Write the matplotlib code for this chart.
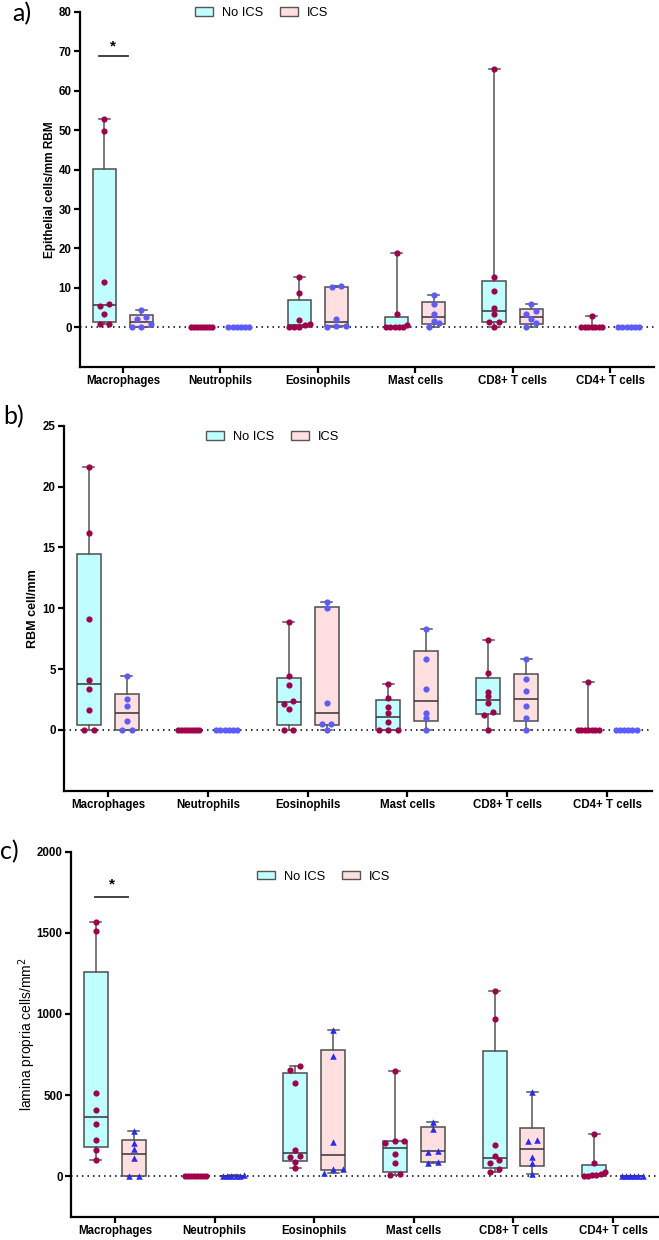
import numpy as np
import matplotlib
matplotlib.use('Agg')
import matplotlib.pyplot as plt
from matplotlib.patches import Patch

plt.rcParams['font.family'] = ['Liberation Sans', 'DejaVu Sans']

categories = ['Macrophages', 'Neutrophils', 'Eosinophils', 'Mast cells', 'CD8+ T cells', 'CD4+ T cells']

# panel a - epithelial cells/mm RBM
a_no_ics = [
    [52.9, 49.7, 11.5, 5.8, 5.5, 3.3, 0.76, 0.76],
    [0, 0, 0, 0, 0, 0, 0, 0],
    [12.8, 8.6, 1.85, 0.76, 0.6, 0, 0, 0],
    [18.8, 3.4, 0.6, 0, 0, 0, 0, 0],
    [65.5, 12.7, 9.3, 5.0, 3.3, 1.4, 1.3, 0],
    [2.9, 0, 0, 0, 0, 0, 0, 0],
]
a_ics = [
    [4.5, 2.5, 2.0, 0.76, 0, 0],
    [0, 0, 0, 0, 0, 0],
    [10.5, 10.1, 2.1, 0.4, 0.4, 0],
    [8.3, 5.9, 3.4, 1.6, 1.0, 0],
    [5.9, 4.2, 3.4, 2.0, 1.0, 0],
    [0, 0, 0, 0, 0, 0],
]

# panel b - RBM cell/mm
b_no_ics = [
    [21.6, 16.2, 9.1, 4.1, 3.4, 1.6, 0, 0],
    [0, 0, 0, 0, 0, 0, 0, 0],
    [8.9, 4.4, 3.7, 2.4, 2.1, 1.7, 0, 0],
    [3.77, 2.6, 1.9, 1.4, 0.66, 0, 0, 0],
    [7.4, 4.65, 3.14, 2.76, 2.2, 1.45, 1.23, 0],
    [3.9, 0, 0, 0, 0, 0, 0, 0],
]
b_ics = [
    [4.4, 2.5, 2.0, 0.74, 0, 0],
    [0, 0, 0, 0, 0, 0],
    [10.5, 10.0, 2.2, 0.5, 0.5, 0],
    [8.25, 5.85, 3.39, 1.42, 1.0, 0],
    [5.8, 4.2, 3.2, 1.94, 0.98, 0],
    [0, 0, 0, 0, 0, 0],
]

# panel c - lamina propria cells/mm2
c_no_ics = [
    [1567, 1510, 510, 410, 324, 223, 164, 98],
    [0, 0, 0, 0, 0, 0, 0, 0],
    [676, 656, 572, 164, 127, 117, 86, 51],
    [650, 217, 217, 203, 139, 78, 12, 6],
    [1141, 967, 190, 127, 98, 82, 41, 27],
    [260, 84, 27, 12, 6, 6, 0, 0],
]
c_ics = [
    [281, 205, 168, 111, 0, 0],
    [6, 0, 0, 0, 0, 0],
    [902, 738, 213, 45, 45, 20],
    [332, 293, 158, 150, 88, 78],
    [516, 221, 217, 117, 78, 12],
    [0, 0, 0, 0, 0, 0],
]

CYAN = '#BFFFFF'
PINK = '#FFDFDF'
RED = '#A2004A'
BLUE_AB = '#5B5BFF'
BLUE_C = '#2A2AF5'

W, H = 659, 1240
fig = plt.figure(figsize=(W / 100, H / 100), dpi=100)


def px_axes(left, right, top, bottom):
    return fig.add_axes([left / W, 1 - bottom / H, (right - left) / W, (bottom - top) / H])


def row_offsets(vals, px_x, px_y, thresh=4.5, max_span=21.0, step=9.5):
    # GraphPad-like spreading of points that sit at nearly the same height
    vals = np.asarray(vals, float)
    order = np.argsort(vals)
    xs = np.zeros(len(vals))
    rows, cur = [], [order[0]]
    for i in order[1:]:
        if (vals[i] - vals[cur[0]]) * px_y < thresh:
            cur.append(i)
        else:
            rows.append(cur)
            cur = [i]
    rows.append(cur)
    for r in rows:
        k = len(r)
        if k > 1:
            sp = min(step, max_span / (k - 1))
            for j, idx in enumerate(r):
                xs[idx] = (j - (k - 1) / 2) * sp
    return xs / px_x


def draw_panel(ax, no_ics, ics, ylim, yticks, blue, bmarker, ax_px):
    xlim = (-0.44, 5.45)
    ax.set_xlim(*xlim)
    ax.set_ylim(*ylim)
    px_x = ax_px[0] / (xlim[1] - xlim[0])
    px_y = ax_px[1] / (ylim[1] - ylim[0])
    ax.axhline(0, color='black', lw=1.1, ls=(0, (1, 2.6)), zorder=1)

    for data, off, face, col, mk in [(no_ics, -0.19, CYAN, RED, 'o'),
                                     (ics, 0.19, PINK, blue, bmarker)]:
        stats = []
        for vals in data:
            v = np.array(vals, float)
            q1, med, q3 = np.percentile(v, [25, 50, 75], method='weibull')
            stats.append(dict(med=med, q1=q1, q3=q3, whislo=v.min(), whishi=v.max(), fliers=[]))
        pos = np.arange(len(data)) + off
        ax.bxp(stats, positions=pos, widths=0.24, patch_artist=True, showfliers=False,
               boxprops=dict(facecolor=face, edgecolor='#4d4d4d', linewidth=1.1),
               medianprops=dict(color='#333333', linewidth=1.1),
               whiskerprops=dict(color='#555555', linewidth=1.1),
               capprops=dict(color='#555555', linewidth=1.1),
               capwidths=0.11, manage_ticks=False, zorder=2)
        for p, vals in zip(pos, data):
            dx = row_offsets(vals, px_x, px_y)
            ax.scatter(p + dx, vals, s=20 if mk == 'o' else 22, marker=mk, color=col,
                       linewidths=0, zorder=4)

    for side in ['top', 'right']:
        ax.spines[side].set_visible(False)
    for side in ['left', 'bottom']:
        ax.spines[side].set_linewidth(1.6)
    ax.set_yticks(yticks)
    ax.set_xticks(range(len(categories)))
    ax.set_xticklabels(categories, fontweight='bold', fontsize=8.3)
    ax.tick_params(axis='both', width=1.6, length=4, labelsize=8.3, pad=2)
    for t in ax.get_yticklabels():
        t.set_fontweight('bold')
    return ax


def add_legend(ax, fx, fy):
    handles = [Patch(facecolor=CYAN, edgecolor='#555555', label='No ICS'),
               Patch(facecolor=PINK, edgecolor='#555555', label='ICS')]
    ax.legend(handles=handles, ncol=2, frameon=False, loc='center left',
              bbox_to_anchor=(fx, fy), borderaxespad=0, borderpad=0,
              handlelength=1.4, handleheight=0.6, handletextpad=0.7,
              columnspacing=1.3, fontsize=9.3)


# a)
ax_a = px_axes(80, 654, 12, 366.7)
draw_panel(ax_a, a_no_ics, a_ics, (-10, 80), range(0, 81, 10), BLUE_AB, 'o', (574, 354.7))
ax_a.set_ylabel('Epithelial cells/mm RBM', fontsize=8.5, fontweight='bold')
ax_a.yaxis.set_label_coords(-0.042, 0.5)
add_legend(ax_a, 0.2, 0.997)
ax_a.plot([-0.25, 0.054], [68.8, 68.8], color='#333333', lw=1.3)
ax_a.text(-0.1, 71.2, '*', ha='center', va='center', fontsize=11, fontweight='bold')

# b)
ax_b = px_axes(64, 652, 425.7, 790.7)
draw_panel(ax_b, b_no_ics, b_ics, (-5, 25), range(0, 26, 5), BLUE_AB, 'o', (588, 365))
ax_b.set_ylabel('RBM cell/mm', fontsize=9, fontweight='bold')
ax_b.yaxis.set_label_coords(-0.043, 0.5)
add_legend(ax_b, 0.2415, 0.969)

# c)
ax_c = px_axes(71, 658, 851.7, 1216.7)
draw_panel(ax_c, c_no_ics, c_ics, (-250, 2000), range(0, 2001, 500), BLUE_C, '^', (587, 365))
ax_c.set_ylabel('lamina propria cells/mm$^2$', fontsize=10)
ax_c.yaxis.set_label_coords(-0.056, 0.5)
add_legend(ax_c, 0.317, 0.931)
ax_c.plot([-0.2, 0.13], [1723, 1723], color='#333333', lw=1.3)
ax_c.text(-0.03, 1795, '*', ha='center', va='center', fontsize=11, fontweight='bold')

panel_labels = [('a)', 12, 2), ('b)', 3, 405), ('c)', 0, 840)]
for lbl, x, y in panel_labels:
    fig.text(x / W, 1 - y / H, lbl, fontsize=18, family=['Lato', 'DejaVu Sans'], va='top', ha='left')

fig.savefig('out.png', dpi=100)
